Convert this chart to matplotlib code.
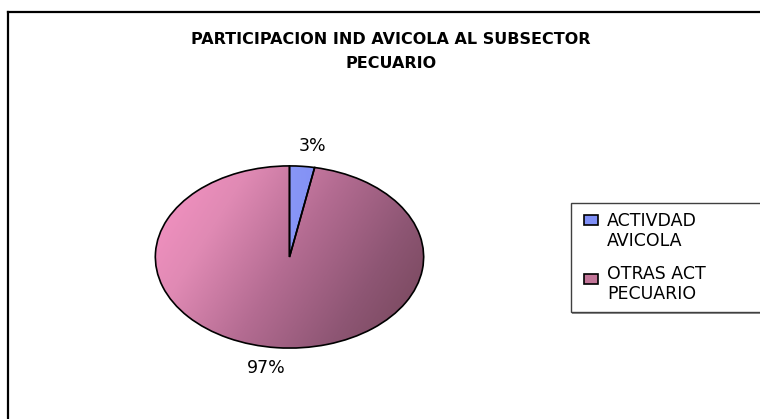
import numpy as np
import matplotlib
matplotlib.use("Agg")
import matplotlib.pyplot as plt
from matplotlib.colors import LinearSegmentedColormap
from matplotlib.patches import Rectangle
from matplotlib.lines import Line2D

plt.rcParams['font.family'] = ['DejaVu Sans']

title = "PARTICIPACION IND AVICOLA AL SUBSECTOR\nPECUARIO"
labels = ["ACTIVDAD\nAVICOLA", "OTRAS ACT\nPECUARIO"]
values = [3, 97]
swatch_colors = ["#7F8FF6", "#C27598"]

W, H = 760, 419
fig = plt.figure(figsize=(W / 100, H / 100), dpi=100)


def fx(px):
    return px / W


def fy(py):
    return 1 - py / H


# outer chart border (only top and left are inside the picture)
fig.add_artist(Line2D([fx(8), 1.0], [fy(12), fy(12)], transform=fig.transFigure,
                      color="black", linewidth=1.6))
fig.add_artist(Line2D([fx(8), fx(8)], [fy(12), 0.0], transform=fig.transFigure,
                      color="black", linewidth=1.6))

fig.text(fx(391), fy(52), title, ha="center", va="center",
         fontsize=11.5, fontweight="bold", linespacing=1.75)

ax = fig.add_axes([fx(154), fy(349), fx(271), 184 / H])
wedges, texts, autotexts = ax.pie(values, colors=swatch_colors, startangle=90,
                                  counterclock=False, autopct='%1.0f%%',
                                  pctdistance=1.22,
                                  wedgeprops=dict(edgecolor="black", linewidth=1.2),
                                  textprops=dict(fontsize=12.5))
ax.set_aspect('auto')
ax.set_xlim(-1.01, 1.01)
ax.set_ylim(-1.01, 1.01)
# labels sit a little further out sideways in the original
for t in autotexts:
    x, y = t.get_position()
    t.set_position((x * 1.5, y))

# gradient fills clipped to each wedge
xx, yy = np.meshgrid(np.linspace(-1, 1, 300), np.linspace(1, -1, 300))
grad_big = np.clip(0.7 * (xx + 1) / 2 + 0.3 * (1 - yy) / 2, 0, 1)
cmap_big = LinearSegmentedColormap.from_list(
    "big", ["#FA94C6", "#E08AB4", "#B46C92", "#8E5674", "#734558"])
cmap_small = LinearSegmentedColormap.from_list("small", ["#A2AEFF", "#6E7EEE"])
grad_small = (xx + 1) / 2

for w, g, cm in [(wedges[0], grad_small, cmap_small), (wedges[1], grad_big, cmap_big)]:
    im = ax.imshow(g, cmap=cm, extent=(-1, 1, -1, 1), aspect='auto', zorder=1,
                   interpolation='bilinear')
    im.set_clip_path(w)
for w in wedges:
    w.set_facecolor("none")
    w.set_zorder(5)

# legend box (runs off the right edge like the original)
fig.patches.append(Rectangle((fx(572), fy(314)), fx(200), 111 / H,
                             transform=fig.transFigure, facecolor="#909090",
                             edgecolor="none", zorder=1))
fig.patches.append(Rectangle((fx(571), fy(312)), fx(200), 109 / H,
                             transform=fig.transFigure, facecolor="white",
                             edgecolor="#404040", linewidth=1, zorder=2))
rows = [(215, 231), (274, 284)]
for (sw_y, txt_y), lab, c in zip(rows, labels, swatch_colors):
    fig.patches.append(Rectangle((fx(584), fy(sw_y + 10)), fx(14), 10 / H,
                                 transform=fig.transFigure, facecolor=c,
                                 edgecolor="black", linewidth=1.2, zorder=3))
    fig.text(fx(607), fy(txt_y), lab, ha="left", va="center", fontsize=12.5,
             linespacing=1.2, zorder=4)

fig.savefig("out.png", dpi=100)
